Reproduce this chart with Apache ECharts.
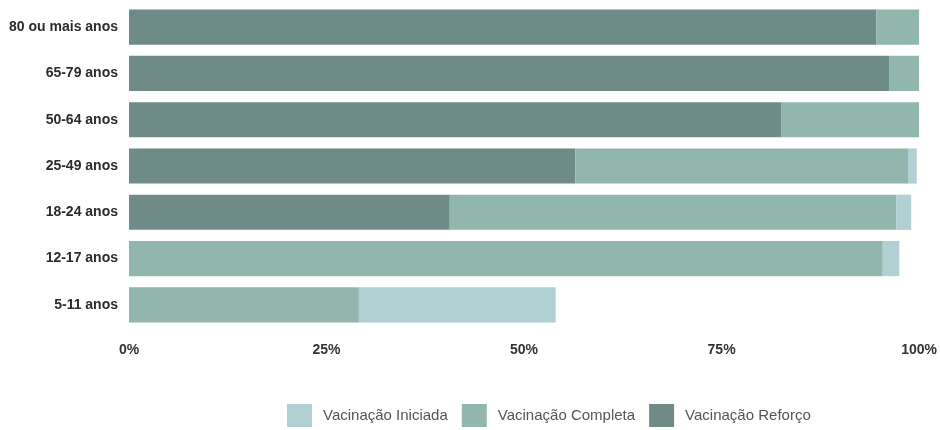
<!DOCTYPE html>
<html><head><meta charset="utf-8">
<script src="https://cdn.jsdelivr.net/npm/echarts@6/dist/echarts.min.js"></script>
<style>html,body{margin:0;padding:0;background:#fff}#c{width:940px;height:430px}</style>
</head><body><div id="c"></div>
<script>
const categories = ['5-11 anos','12-17 anos','18-24 anos','25-49 anos','50-64 anos','65-79 anos','80 ou mais anos'];
// segment values (percentage points), stacked left to right: Reforço, Completa, Iniciada
const reforco  = [0, 0, 40.6, 56.5, 82.6, 96.2, 94.6];
const completa = [29.1, 95.4, 56.5, 42.1, 17.4, 3.8, 5.4];
const iniciada = [24.9, 2.1, 1.9, 1.1, 0, 0, 0];
const xTicks = ['0%','25%','50%','75%','100%'];
const names = ['Vacinação Iniciada','Vacinação Completa','Vacinação Reforço'];

const chart = echarts.init(document.getElementById('c'));
const mk = (name, data, color) => ({
  name, type: 'bar', stack: 'v', data, barCategoryGap: '24%',
  itemStyle: { color }, emphasis: { disabled: true }
});
chart.setOption({
  animation: false,
  grid: { left: 129, right: 19, top: 4, bottom: 102 },
  xAxis: {
    type: 'value', min: 0, max: 100, interval: 25,
    splitLine: { show: false }, axisLine: { show: false }, axisTick: { show: false },
    axisLabel: {
      formatter: v => xTicks[v / 25], color: '#333', fontWeight: 'bold', fontSize: 14,
      fontFamily: 'Liberation Sans', margin: 15
    }
  },
  yAxis: {
    type: 'category', data: categories,
    axisLine: { show: false }, axisTick: { show: false },
    axisLabel: { color: '#2b2b2b', fontWeight: 'bold', fontSize: 14, fontFamily: 'Liberation Sans', margin: 11 }
  },
  legend: {
    data: names, top: 399, left: 282, itemWidth: 25, itemHeight: 23, itemGap: 14,
    icon: 'rect',
    textStyle: { color: '#555', fontSize: 15, fontFamily: 'Liberation Sans', padding: [0, 0, 0, 6] }
  },
  series: [
    mk('Vacinação Reforço', reforco, '#6f8b87'),
    mk('Vacinação Completa', completa, '#90b6ae'),
    mk('Vacinação Iniciada', iniciada, '#b1d0d3')
  ]
});
</script></body></html>
